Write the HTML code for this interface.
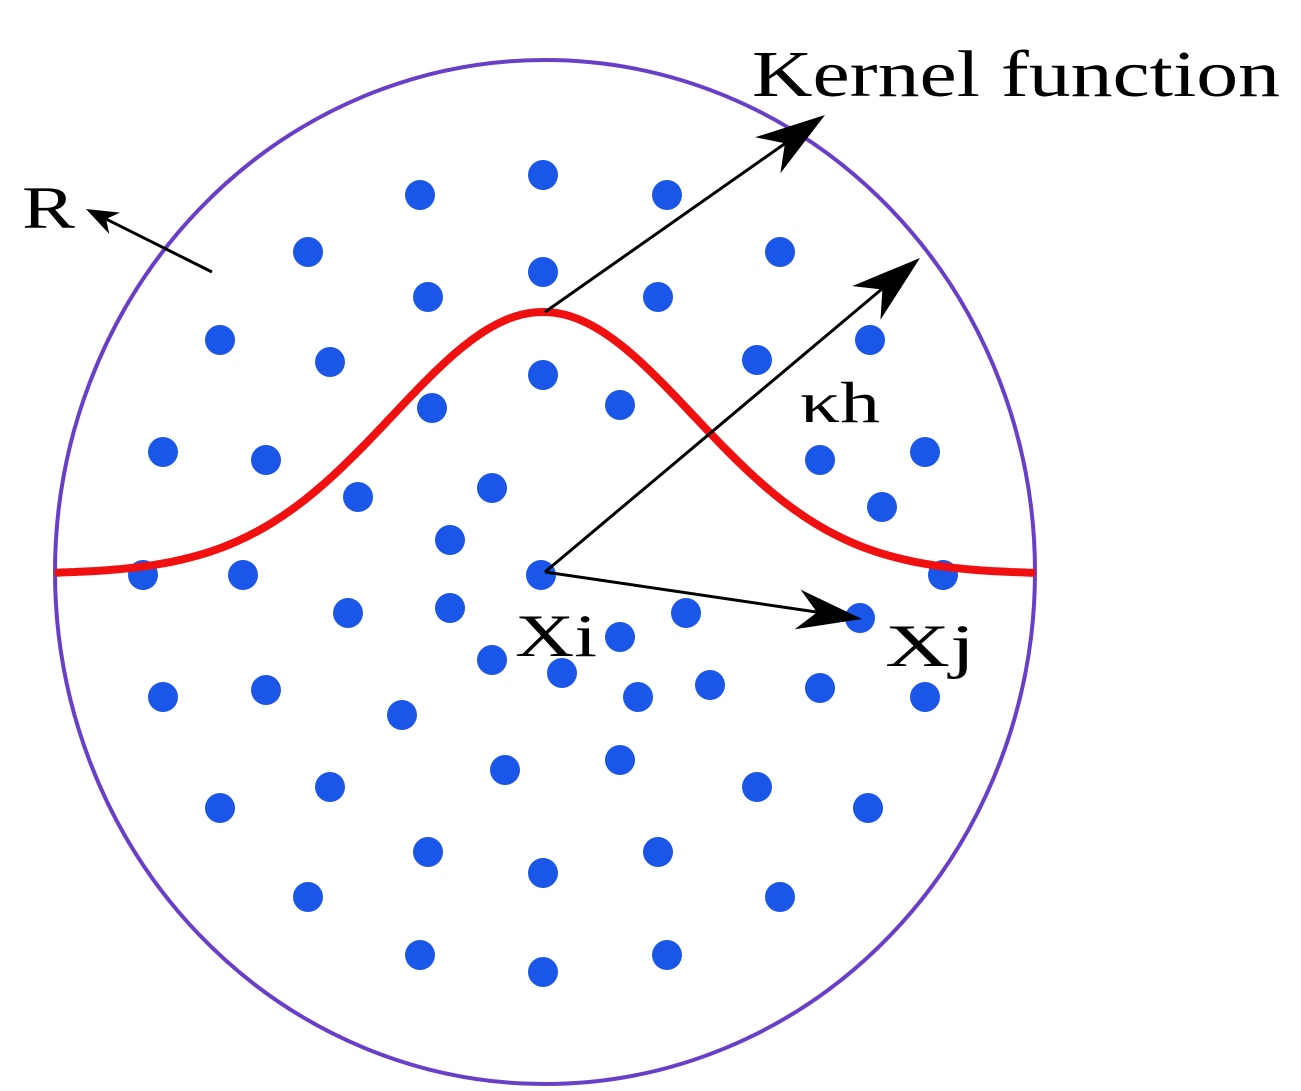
<!DOCTYPE html>
<html><head><meta charset="utf-8"><style>
html,body{margin:0;padding:0;background:#fff;}
svg{display:block;}
text{font-family:"Liberation Serif",serif;fill:#000;}
</style></head><body>
<svg id="s" width="1301" height="1091" viewBox="0 0 1301 1091" xmlns="http://www.w3.org/2000/svg">
<ellipse cx="545" cy="572" rx="490" ry="512" fill="none" stroke="#6a3fc8" stroke-width="4"/>
<g id="dots" fill="#1a56e8"></g>
<polyline id="curve" fill="none" stroke="#f01010" stroke-width="8" stroke-linejoin="round"/>
<g stroke="#000" stroke-width="3" fill="none">
<line x1="545" y1="312" x2="800" y2="133"/>
<line x1="545" y1="572" x2="895" y2="278"/>
<line x1="545" y1="572" x2="830" y2="614"/>
<line x1="212" y1="272" x2="100" y2="216"/>
</g>
<g fill="#000" id="heads"></g>
<text x="752" y="96" font-size="66" textLength="528" lengthAdjust="spacingAndGlyphs">Kernel function</text>
<text x="22" y="228" font-size="60" textLength="53" lengthAdjust="spacingAndGlyphs">R</text>
<text x="800" y="422" font-size="58" textLength="80" lengthAdjust="spacingAndGlyphs">κh</text>
<text x="515" y="656" font-size="60" textLength="82" lengthAdjust="spacingAndGlyphs">Xi</text>
<text x="885" y="666" font-size="60" textLength="90" lengthAdjust="spacingAndGlyphs">Xj</text>
</svg>
<script>
var ns="http://www.w3.org/2000/svg";
var d=[[543,175],[420,195],[667,195],[308,252],[780,252],[543,272],[428,297],[658,297],[220,340],[330,362],[543,375],[757,360],[870,340],[432,408],[620,405],[163,452],[266,460],[820,460],[925,452],[492,488],[358,497],[882,507],[450,540],[143,575],[243,575],[541,575],[943,575],[348,613],[450,608],[686,613],[860,618],[620,637],[492,660],[562,673],[163,697],[266,690],[638,697],[710,685],[820,688],[925,697],[402,715],[505,770],[620,760],[330,787],[757,787],[220,808],[868,808],[428,852],[658,852],[543,873],[308,897],[780,897],[420,955],[667,955],[543,972]];
var g=document.getElementById("dots");
d.forEach(function(p){var c=document.createElementNS(ns,"circle");c.setAttribute("cx",p[0]);c.setAttribute("cy",p[1]);c.setAttribute("r",15);g.appendChild(c);});
var pts=[];for(var x=55;x<=1035;x+=4){var y=574-262*Math.exp(-Math.pow(x-543,2)/(2*150*150));pts.push(x+","+y.toFixed(1));}
document.getElementById("curve").setAttribute("points",pts.join(" "));
function head(x1,y1,x2,y2,L,W){var dx=x2-x1,dy=y2-y1,l=Math.hypot(dx,dy);dx/=l;dy/=l;var px=-dy,py=dx;
var bx=x2-dx*L,by=y2-dy*L,nx=x2-dx*L*0.7,ny=y2-dy*L*0.7;
var p=document.createElementNS(ns,"path");
p.setAttribute("d","M"+x2+","+y2+" L"+(bx+px*W)+","+(by+py*W)+" L"+nx+","+ny+" L"+(bx-px*W)+","+(by-py*W)+"Z");
document.getElementById("heads").appendChild(p);}
head(545,312,825,115,70,22);
head(545,572,920,258,70,22);
head(545,572,862,619,65,20);
head(212,272,86,209,32,12);
</script>
</body></html>
